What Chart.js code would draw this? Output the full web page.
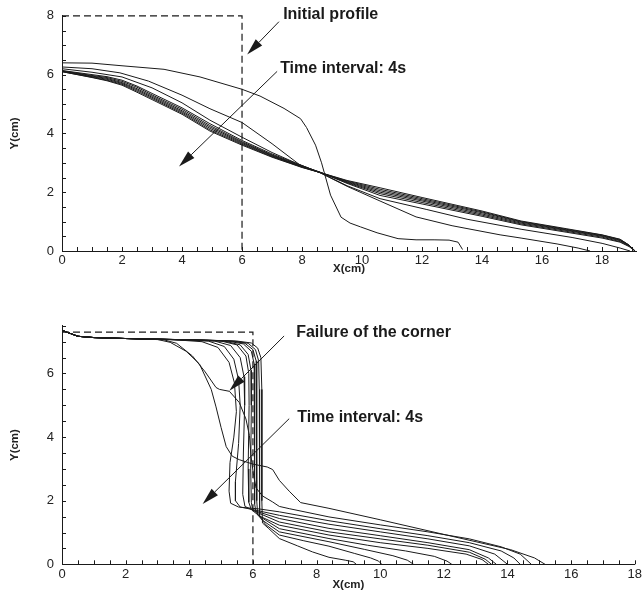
<!DOCTYPE html>
<html><head><meta charset="utf-8">
<script src="https://cdn.jsdelivr.net/npm/chart.js@4/dist/chart.umd.min.js"></script>
<style>
html,body{margin:0;padding:0;background:#fff;}
#w1{position:absolute;left:0;top:0;width:644px;height:276px;}
#w2{position:absolute;left:0;top:310px;width:644px;height:282px;}
</style></head><body>
<div id="w1"><canvas id="c1" width="644" height="276"></canvas></div>
<div id="w2"><canvas id="c2" width="644" height="282"></canvas></div>
<script>
// ---------- TOP PANEL DATA ----------
const topXTicks = [0,2,4,6,8,10,12,14,16,18];
const topYTicks = [0,2,4,6,8];
const topInitial = [[0,8],[6,8],[6,0]];
const topA = [[0,6.4],[1,6.39],[2,6.3],[3.4,6.18],[4.6,5.92],[6,5.5],[6.6,5.27],[7.4,4.85],[7.95,4.5],[8.15,4.2],[8.45,3.6],[8.65,3.0],[8.95,1.9],[9.3,1.15],[9.6,0.95],[9.95,0.82],[10.5,0.62],[11.2,0.42],[11.8,0.38],[12.4,0.38],[12.9,0.37],[13.2,0.3],[13.35,0.05]];
const topB = [[0,6.26],[1,6.2],[1.93,6.06],[2.88,5.78],[4,5.3],[4.93,4.84],[6,4.37],[7,3.65],[7.9,2.95],[8.6,2.66],[9.5,2.2],[10.6,1.7],[11.8,1.16],[13,0.86],[14.6,0.55],[15.3,0.44],[16.5,0.24],[17.2,0.1],[17.6,0]];
const topC = [[0,6.2],[1,6.08],[2,5.92],[3,5.55],[4,5.04],[4.93,4.45],[6,3.87],[7,3.35],[8,2.9],[8.6,2.67],[9.5,2.22],[10.6,1.78],[12.16,1.41],[13.5,1.08],[15.3,0.74],[17,0.46],[18,0.26],[18.6,0.1],[18.93,0]];
const topD = [[0,6.14],[1,6.0],[1.5,5.93],[2,5.81],[2.5,5.61],[3,5.36],[4,4.87],[4.93,4.33],[6,3.76],[7,3.3],[8,2.9],[8.6,2.68],[9.5,2.3],[10.6,1.89],[12,1.6],[14,1.18],[15.3,0.89],[16.8,0.64],[18,0.44],[18.6,0.3],[18.9,0.15],[19.1,0]];
const topE = [[0,6.13],[1,5.97],[1.5,5.9],[2,5.77],[2.5,5.57],[3,5.31],[4,4.82],[4.93,4.27],[6,3.72],[7,3.27],[8,2.88],[8.6,2.68],[9.5,2.32],[10.6,1.95],[12,1.65],[14,1.22],[15.3,0.92],[16.8,0.67],[18,0.47],[18.6,0.32],[18.9,0.17],[19.1,0]];
const topF = [[0,6.12],[1,5.95],[1.5,5.87],[2,5.73],[2.5,5.52],[3,5.27],[4,4.77],[4.93,4.22],[6,3.69],[7,3.25],[8,2.87],[8.6,2.67],[9.5,2.34],[10.6,2.0],[12,1.7],[14,1.26],[15.3,0.95],[16.8,0.7],[18,0.5],[18.6,0.35],[18.9,0.18],[19.1,0]];
const topG = [[0,6.11],[1,5.93],[1.5,5.84],[2,5.7],[2.5,5.48],[3,5.23],[4,4.73],[4.93,4.17],[6,3.66],[7,3.23],[8,2.86],[8.6,2.67],[9.5,2.36],[10.6,2.05],[12,1.74],[14,1.3],[15.3,0.98],[16.8,0.72],[18,0.52],[18.6,0.37],[18.9,0.19],[19.1,0]];
const topH = [[0,6.1],[1,5.91],[1.5,5.81],[2,5.67],[2.5,5.44],[3,5.19],[4,4.69],[4.93,4.12],[6,3.63],[7,3.21],[8,2.85],[8.6,2.67],[9.5,2.38],[10.6,2.1],[12,1.78],[14,1.33],[15.3,1.0],[16.8,0.74],[18,0.54],[18.6,0.39],[18.9,0.2],[19.1,0]];
const topI = [[0,6.1],[1,5.9],[1.5,5.79],[2,5.64],[2.5,5.4],[3,5.15],[4,4.65],[4.93,4.08],[6,3.6],[7,3.19],[8,2.84],[8.6,2.67],[9.5,2.4],[10.6,2.15],[12,1.82],[14,1.36],[15.3,1.02],[16.8,0.76],[18,0.55],[18.6,0.4],[18.9,0.2],[19.1,0]];

// ---------- BOTTOM PANEL DATA ----------
const botXTicks = [0,2,4,6,8,10,12,14,16,18];
const botYTicks = [0,2,4,6];
const botInitial = [[0,7.3],[6,7.3],[6,0]];
const botK0 = [[0,7.36],[0.15,7.3],[0.5,7.17],[1,7.13],[2,7.1],[3,7.08],[4.5,7.05],[5.5,7.02],[5.95,6.96],[6.15,6.8],[6.25,6.5],[6.28,5.5],[6.28,2],[6.3,1.3],[6.5,1.12],[6.83,0.81],[7.4,0.58],[7.87,0.39],[8.39,0.22],[8.9,0.13],[9.15,0.08],[9.25,0]];
const botK1 = [[0,7.36],[0.15,7.3],[0.5,7.17],[1,7.13],[2,7.1],[3,7.08],[4.5,7.05],[5.4,7.02],[5.85,6.95],[6.08,6.75],[6.18,6.4],[6.2,5.5],[6.2,2],[6.22,1.5],[6.4,1.25],[6.83,0.92],[7.6,0.74],[8.39,0.57],[9.2,0.34],[9.7,0.2],[9.95,0.1],[10.05,0]];
const botK2 = [[0,7.36],[0.15,7.3],[0.5,7.17],[1,7.13],[2,7.1],[3,7.08],[4.5,7.05],[5.3,7.02],[5.75,6.95],[6.0,6.75],[6.1,6.4],[6.12,5.5],[6.12,2],[6.15,1.55],[6.35,1.35],[6.83,1.02],[8.39,0.71],[9.5,0.47],[10.4,0.27],[10.85,0.13],[11.05,0]];
const botK3 = [[0,7.36],[0.15,7.3],[0.5,7.17],[1,7.13],[2,7.1],[3,7.08],[4.4,7.05],[5.2,7.02],[5.7,6.93],[5.95,6.7],[6.04,6.3],[6.05,5],[6.05,3],[6.06,1.9],[6.1,1.62],[6.3,1.45],[6.83,1.12],[8.39,0.81],[9.6,0.6],[10.8,0.42],[11.7,0.25],[12.1,0.1],[12.25,0]];
const botK4 = [[0,7.36],[0.15,7.3],[0.5,7.17],[1,7.13],[2,7.1],[3,7.08],[4.3,7.05],[5.1,7.02],[5.6,6.9],[5.85,6.6],[5.94,6.1],[5.95,5],[5.93,3],[5.95,1.95],[6.0,1.68],[6.2,1.52],[6.83,1.23],[8.39,0.92],[10,0.68],[11.5,0.5],[12.7,0.32],[13.2,0.15],[13.4,0]];
const botK5 = [[0,7.36],[0.15,7.3],[0.5,7.17],[1,7.13],[2,7.1],[3,7.08],[4.2,7.05],[5.0,7.02],[5.5,6.9],[5.78,6.55],[5.87,6.0],[5.88,5],[5.85,3],[5.87,1.95],[5.95,1.72],[6.2,1.6],[6.83,1.33],[8.39,1.02],[10,0.8],[11.5,0.6],[12.8,0.38],[13.3,0.16],[13.5,0]];
const botK6 = [[0,7.36],[0.15,7.3],[0.5,7.17],[1,7.13],[2,7.1],[3,7.08],[4.0,7.05],[4.8,7.02],[5.3,6.88],[5.6,6.5],[5.72,5.9],[5.74,5],[5.7,3.5],[5.68,2.2],[5.75,1.82],[6.0,1.7],[6.83,1.44],[8.39,1.13],[10,0.9],[11.5,0.68],[12.8,0.46],[13.4,0.2],[13.65,0]];
const botK7 = [[0,7.36],[0.15,7.3],[0.5,7.17],[1,7.13],[2,7.1],[3,7.08],[3.9,7.05],[4.6,7.02],[5.1,6.85],[5.4,6.45],[5.55,5.8],[5.6,5],[5.55,3.8],[5.45,2.6],[5.45,2.0],[5.6,1.8],[6.0,1.72],[6.83,1.54],[8.39,1.26],[10,1.02],[11.5,0.8],[12.8,0.58],[13.6,0.32],[14.0,0]];
const botK8 = [[0,7.36],[0.15,7.3],[0.5,7.17],[1,7.13],[2,7.1],[3,7.08],[3.7,7.05],[4.4,7.0],[4.9,6.82],[5.25,6.35],[5.42,5.7],[5.48,4.8],[5.4,4.0],[5.28,3.2],[5.25,2.3],[5.3,1.92],[5.55,1.8],[6.2,1.74],[6.83,1.65],[8.39,1.37],[10,1.12],[11.5,0.9],[12.8,0.68],[13.8,0.42],[14.2,0.2],[14.4,0]];
const botK9 = [[0,7.36],[0.15,7.3],[0.5,7.17],[1,7.13],[2,7.1],[3.2,7.06],[3.6,6.95],[4.1,6.55],[4.5,6.05],[4.84,5.56],[4.95,5.5],[5.26,5.44],[5.57,5.09],[5.78,4.57],[5.89,4.05],[5.94,3.4],[6.02,2.8],[6.1,2.4],[6.3,2.15],[6.62,1.96],[6.83,1.82],[7.14,1.75],[8.39,1.49],[10,1.24],[11.5,1.02],[12.8,0.8],[13.8,0.55],[14.4,0.32],[14.75,0]];
const botK10 = [[0,7.36],[0.15,7.3],[0.5,7.17],[1,7.13],[2,7.1],[3.0,7.07],[3.4,6.98],[3.9,6.7],[4.32,6.3],[4.69,5.5],[4.84,4.95],[5.0,4.3],[5.16,3.7],[5.35,3.4],[5.57,3.29],[6.0,3.15],[6.45,3.06],[6.62,2.98],[6.83,2.64],[7.14,2.3],[7.5,1.94],[8.39,1.76],[10,1.4],[12,0.94],[14.1,0.46],[14.85,0.2],[15.18,0]];

// annotations (data units)
const topNotes = [
  {text:'Initial profile', tx:7.37, ty:8.03, from:[7.23,7.8], to:[6.17,6.68]},
  {text:'Time interval: 4s', tx:7.27, ty:6.2, from:[7.17,6.11], to:[3.9,2.87]}
];
const botNotes = [
  {text:'Failure of the corner', tx:7.36, ty:7.28, from:[6.98,7.18], to:[5.26,5.46]},
  {text:'Time interval: 4s', tx:7.39, ty:4.62, from:[7.14,4.58], to:[4.42,1.9]}
];

const FONT = '"Liberation Sans", Arial, Helvetica, sans-serif';
const INK = '#1a1a1a';

const decoPlugin = {
  id: 'deco',
  afterDraw(chart) {
    const o = chart.options.plugins.deco;
    const ctx = chart.ctx;
    const xs = chart.scales.x, ys = chart.scales.y;
    const ca = chart.chartArea;
    ctx.save();
    ctx.strokeStyle = INK; ctx.lineWidth = 1;
    ctx.beginPath();
    for (let v = 0; v <= xs.max + 1e-9; v += 0.5) {
      const p = Math.round(xs.getPixelForValue(v)) + 0.5;
      ctx.moveTo(p, ca.bottom); ctx.lineTo(p, ca.bottom - 4);
    }
    for (let v = 0; v <= ys.max + 1e-9; v += 0.5) {
      const p = Math.round(ys.getPixelForValue(v)) + 0.5;
      ctx.moveTo(ca.left, p); ctx.lineTo(ca.left + 4, p);
    }
    ctx.stroke();
    ctx.fillStyle = INK;
    ctx.font = 'bold 16px ' + FONT;
    ctx.textBaseline = 'middle';
    ctx.textAlign = 'left';
    for (const n of o.notes) {
      ctx.fillText(n.text, xs.getPixelForValue(n.tx), ys.getPixelForValue(n.ty));
      const x1 = xs.getPixelForValue(n.from[0]), y1 = ys.getPixelForValue(n.from[1]);
      const x2 = xs.getPixelForValue(n.to[0]), y2 = ys.getPixelForValue(n.to[1]);
      const ang = Math.atan2(y2 - y1, x2 - x1);
      const L = 17, W = 4.5;
      const bx = x2 - L * Math.cos(ang), by = y2 - L * Math.sin(ang);
      ctx.beginPath(); ctx.moveTo(x1, y1); ctx.lineTo(bx, by); ctx.stroke();
      ctx.beginPath();
      ctx.moveTo(x2, y2);
      ctx.lineTo(bx + W * Math.sin(ang), by - W * Math.cos(ang));
      ctx.lineTo(bx - W * Math.sin(ang), by + W * Math.cos(ang));
      ctx.closePath(); ctx.fill();
    }
    ctx.restore();
  }
};

function mk(id, curves, initial, xmax, ymax, xTicks, yTicks, notes, padRight, axisH) {
  const ds = curves.map(c => ({
    data: c.map(p => ({x: p[0], y: p[1]})),
    borderColor: INK, borderWidth: 1, pointRadius: 0, tension: 0, fill: false, clip: false
  }));
  ds.push({
    data: initial.map(p => ({x: p[0], y: p[1]})),
    borderColor: INK, borderWidth: 1.2, borderDash: [7, 4], pointRadius: 0, tension: 0, fill: false, clip: false
  });
  return new Chart(document.getElementById(id), {
    type: 'line',
    data: { datasets: ds },
    plugins: [decoPlugin],
    options: {
      responsive: false, animation: false,
      layout: { padding: { top: 14, right: padRight, left: 0, bottom: 0 } },
      plugins: { legend: { display: false }, tooltip: { enabled: false }, deco: { notes } },
      scales: {
        x: {
          type: 'linear', min: 0, max: xmax,
          afterFit: s => { s.height = axisH; },
          afterBuildTicks: s => { s.ticks = xTicks.map(v => ({value: v})); },
          grid: { display: false, drawTicks: false },
          border: { display: true, color: INK, width: 1 },
          ticks: { color: '#222', font: { family: FONT, size: 13 }, padding: 2, maxRotation: 0, autoSkip: false },
          title: { display: true, text: 'X(cm)', color: '#222', font: { family: FONT, size: 11.5, weight: 'bold' }, padding: { top: 0, bottom: 0 } }
        },
        y: {
          type: 'linear', min: 0, max: ymax,
          afterFit: s => { s.width = 62; },
          afterBuildTicks: s => { s.ticks = yTicks.map(v => ({value: v})); },
          grid: { display: false, drawTicks: false },
          border: { display: true, color: INK, width: 1 },
          ticks: { color: '#222', font: { family: FONT, size: 13 }, padding: 8 },
          title: { display: true, text: 'Y(cm)', color: '#222', font: { family: FONT, size: 11.5, weight: 'bold' }, padding: { top: 8, bottom: 0 } }
        }
      }
    }
  });
}

mk('c1', [topA, topB, topC, topD, topE, topF, topG, topH, topI], topInitial, 19.13, 8, topXTicks, topYTicks, topNotes, 8, 25);
mk('c2', [botK0, botK1, botK2, botK3, botK4, botK5, botK6, botK7, botK8, botK9, botK10], botInitial, 18, 7.5, botXTicks, botYTicks, botNotes, 7, 27.7);
</script>
</body></html>
